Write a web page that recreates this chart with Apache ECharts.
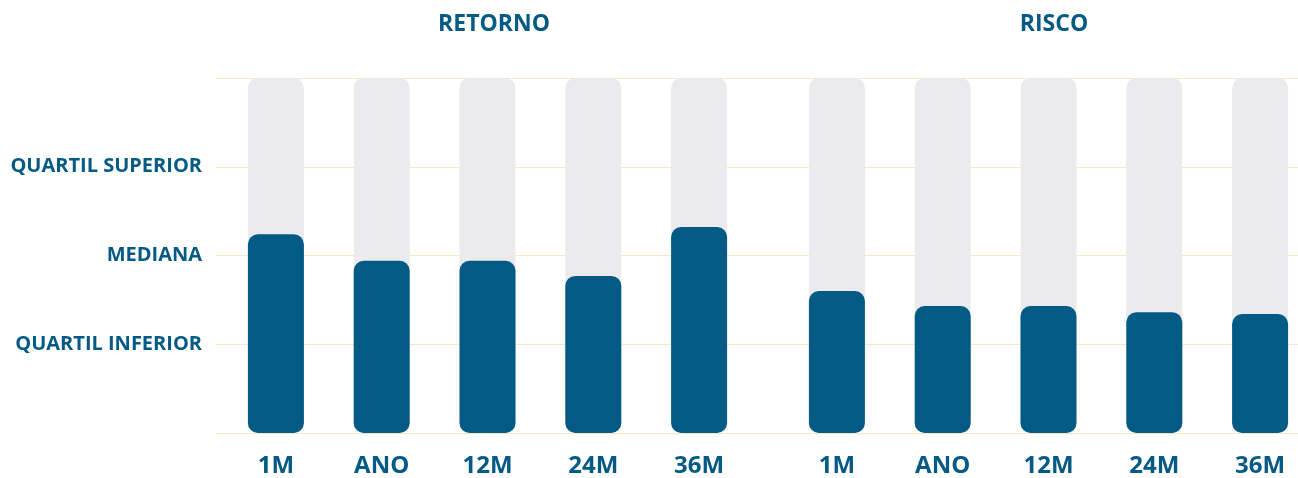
<!DOCTYPE html>
<html>
<head>
<meta charset="utf-8">
<script src="https://cdn.jsdelivr.net/npm/echarts@6/dist/echarts.min.js"></script>
<style>
  html, body { margin: 0; padding: 0; background: #fff; }
  #chart { width: 1298px; height: 478px; }
</style>
</head>
<body>
<div id="chart"></div>
<script>
// dados (escala 0..4: 1 = quartil inferior, 2 = mediana, 3 = quartil superior)
var categorias = ['1M', 'ANO', '12M', '24M', '36M'];
var retorno = [2.24, 1.94, 1.94, 1.77, 2.32];
var risco = [1.60, 1.43, 1.43, 1.36, 1.34];
var rotulosY = ['', 'QUARTIL INFERIOR', 'MEDIANA', 'QUARTIL SUPERIOR', ''];

var azul = '#035a84';
var fonte = '"Open Sans", "Noto Sans", sans-serif';

var myChart = echarts.init(document.getElementById('chart'));

function serieBarras(idx, dados) {
  return {
    type: 'bar',
    xAxisIndex: idx,
    yAxisIndex: idx,
    data: dados,
    barWidth: 56,
    showBackground: true,
    backgroundStyle: { color: '#ebebed', borderRadius: 10 },
    itemStyle: { color: azul, borderRadius: 10 },
    silent: true
  };
}

function eixoX(idx) {
  return {
    type: 'category',
    gridIndex: idx,
    data: categorias,
    axisLine: { show: false },
    axisTick: { show: false },
    axisLabel: idx === 0 ? { show: false } : {
      color: azul, fontFamily: fonte, fontWeight: 'bold', fontSize: 24, margin: 21
    }
  };
}

function eixoY(idx) {
  return {
    type: 'value',
    gridIndex: idx,
    min: 0, max: 4, interval: 1,
    axisLine: { show: false },
    axisTick: { show: false },
    splitLine: idx === 0 ? { lineStyle: { color: '#fde6c4', width: 1 } } : { show: false },
    axisLabel: idx === 0 ? {
      color: azul, fontFamily: fonte, fontWeight: 'bold', fontSize: 20, margin: 14,
      formatter: function (v) { return rotulosY[v] || ''; }
    } : { show: false }
  };
}

var options = {
  animation: false,
  title: [
    { text: 'RETORNO', left: 489, top: 8, textAlign: 'center',
      textStyle: { color: azul, fontFamily: fonte, fontWeight: 'bold', fontSize: 23 } },
    { text: 'RISCO', left: 1049, top: 8, textAlign: 'center',
      textStyle: { color: azul, fontFamily: fonte, fontWeight: 'bold', fontSize: 23 } }
  ],
  grid: [
    // grade de fundo: linhas e rótulos do eixo y
    { left: 216, right: 0, top: 78, bottom: 45, outerBoundsMode: 'none' },
    // a grade da direita passa um pouco da borda da tela
    { left: 223, width: 529, top: 78, bottom: 45, outerBoundsMode: 'none' },
    { left: 784, width: 529, top: 78, bottom: 45, outerBoundsMode: 'none' }
  ],
  xAxis: [eixoX(0), eixoX(1), eixoX(2)],
  yAxis: [eixoY(0), eixoY(1), eixoY(2)],
  series: [serieBarras(1, retorno), serieBarras(2, risco)]
};

myChart.setOption(options);
</script>
</body>
</html>
